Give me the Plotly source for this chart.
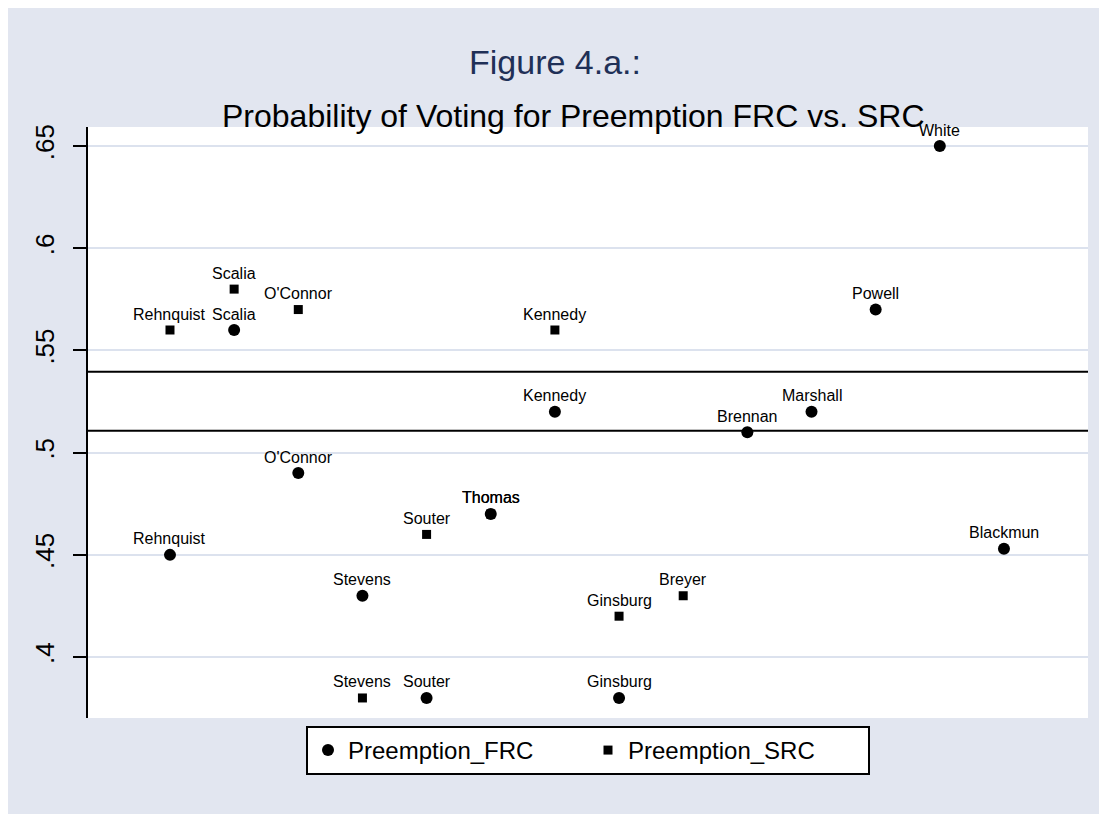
import plotly.graph_objects as go

# ---- data ----
justices = ["Rehnquist", "Scalia", "O'Connor", "Stevens", "Souter", "Thomas", "Kennedy",
            "Ginsburg", "Breyer", "Brennan", "Marshall", "Powell", "White", "Blackmun"]
order = list(range(1, len(justices) + 1))
preemption_frc = [0.45, 0.56, 0.49, 0.43, 0.38, 0.47, 0.52, 0.38, None, 0.51, 0.52, 0.57, 0.65, 0.453]
preemption_src = [0.56, 0.58, 0.57, 0.38, 0.46, 0.47, 0.56, 0.42, 0.43, None, None, None, None, None]
ref_lines = [0.5396, 0.5107]
ytick_vals = [0.4, 0.45, 0.5, 0.55, 0.6, 0.65]
ytick_text = [".4", ".45", ".5", ".55", ".6", ".65"]

FONT = "Arial, Liberation Sans, sans-serif"
BG = "#E2E6F0"
GRID = "#DCE2EE"

fig = go.Figure()

def pts(vals):
    xs, ys, ls = [], [], []
    for x, v, n in zip(order, vals, justices):
        if v is not None:
            xs.append(x); ys.append(v); ls.append(n)
    return xs, ys, ls

fx, fy, fl = pts(preemption_frc)
sx, sy, sl = pts(preemption_src)

fig.add_trace(go.Scatter(x=fx, y=fy, mode="markers", name="Preemption_FRC",
                         marker=dict(symbol="circle", size=12, color="black")))
fig.add_trace(go.Scatter(x=sx, y=sy, mode="markers", name="Preemption_SRC",
                         marker=dict(symbol="square", size=9, color="black")))

annotations = []
for xs, ys, ls in [(fx, fy, fl), (sx, sy, sl)]:
    for x, y, n in zip(xs, ys, ls):
        annotations.append(dict(x=x, y=y, xref="x", yref="y", text=n, showarrow=False,
                                yshift=16, font=dict(family=FONT, size=16, color="black")))

annotations.append(dict(x=0.467, y=1.110, xref="paper", yref="paper", text="Figure 4.a.:",
                        showarrow=False, yanchor="middle",
                        font=dict(family=FONT, size=34, color="#1F3057")))
annotations.append(dict(x=0.485, y=1.0186, xref="paper", yref="paper",
                        text="Probability of Voting for Preemption FRC vs. SRC",
                        showarrow=False, yanchor="middle",
                        font=dict(family=FONT, size=32, color="black")))

shapes = [dict(type="line", xref="paper", x0=0, x1=1, yref="y", y0=v, y1=v,
               line=dict(color="black", width=2)) for v in ref_lines]

fig.update_layout(
    width=1107, height=814,
    margin=dict(l=80, r=27, t=119, b=104),
    paper_bgcolor=BG, plot_bgcolor="white",
    showlegend=True,
    legend=dict(orientation="h", x=0.5, xanchor="center", y=-0.0135, yanchor="top",
                bgcolor="white", bordercolor="black", borderwidth=2,
                font=dict(family=FONT, size=24, color="black"),
                entrywidth=235, itemsizing="trace"),
    annotations=annotations, shapes=shapes,
    xaxis=dict(visible=False, range=[-0.278, 15.31]),
    yaxis=dict(range=[0.3702, 0.6593], tickvals=ytick_vals, ticktext=ytick_text,
               tickangle=-90, ticks="outside", ticklen=13, tickwidth=2, tickcolor="black",
               showline=True, linecolor="black", linewidth=2,
               showgrid=True, gridcolor=GRID, gridwidth=2, zeroline=False,
               ticklabelstandoff=9,
               tickfont=dict(family=FONT, size=26, color="black")),
)

fig.write_html("out.html")
